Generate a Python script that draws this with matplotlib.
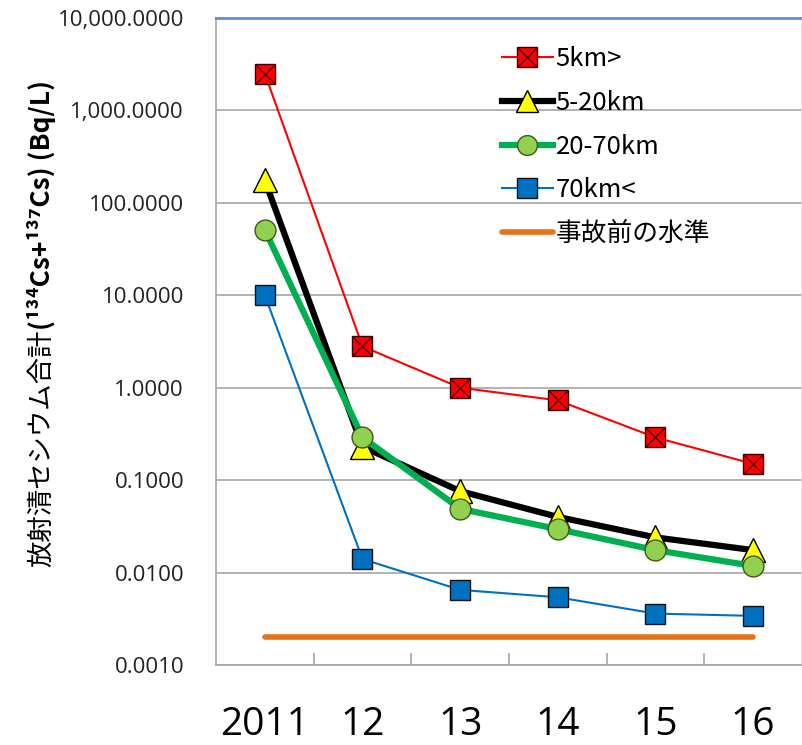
import numpy as np
import matplotlib.pyplot as plt
from matplotlib.legend_handler import HandlerTuple
from matplotlib.ticker import FixedLocator, NullLocator

years = ['2011', '12', '13', '14', '15', '16']
km5_in = [2500, 2.8, 1.0, 0.73, 0.29, 0.15]
km5_20 = [175, 0.23, 0.076, 0.040, 0.024, 0.0175]
km20_70 = [51, 0.29, 0.049, 0.0295, 0.0175, 0.0118]
km70_out = [10, 0.014, 0.0065, 0.0054, 0.0036, 0.0034]
pre_level = 0.002
yticks = [0.001, 0.01, 0.1, 1, 10, 100, 1000, 10000]

jp = ['Noto Sans CJK JP', 'DejaVu Sans']
plt.rcParams['font.family'] = ['Open Sans', 'DejaVu Sans']

fig = plt.figure(figsize=(8.03, 7.45), dpi=100)
ax = fig.add_axes([216 / 803, 80 / 745, 586 / 803, 647 / 745])

x = np.arange(len(years))

l_red, = ax.plot(x, km5_in, '-', color='#ff0000', lw=1.5, marker='s', ms=15,
                 mfc='#ff0000', mec='#3a0000', mew=1.0, zorder=5)
x_red, = ax.plot(x, km5_in, 'x', color='#5a0000', ms=14, mew=1.0, zorder=6)
l_blk, = ax.plot(x, km5_20, '-', color='black', lw=4.5, marker='^', ms=17,
                 mfc='#ffff00', mec='black', mew=1.0, zorder=4)
l_grn, = ax.plot(x, km20_70, '-', color='#00b050', lw=4.5, marker='o', ms=15,
                 mfc='#92d050', mec='#3a5a1a', mew=1.0, zorder=4)
l_blu, = ax.plot(x, km70_out, '-', color='#0070c0', lw=1.5, marker='s', ms=15,
                 mfc='#0070c0', mec='#111111', mew=1.0, zorder=4)
l_org, = ax.plot(x, [pre_level] * len(x), '-', color='#e8711c', lw=4,
                 solid_capstyle='round', zorder=3)

ax.set_yscale('log')
ax.set_ylim(0.001, 10000)
ax.set_xlim(-0.5, len(x) - 0.5)
ax.yaxis.set_major_locator(FixedLocator(yticks))
ax.yaxis.set_minor_locator(NullLocator())
ax.set_yticks(yticks)
ax.set_yticklabels(['{:,.4f}'.format(v) for v in yticks], fontsize=16, color='#222222')
ax.grid(axis='y', color='#a6a6a6', lw=1.2)
ax.tick_params(axis='y', length=0, pad=23)

ax.set_xticks(x[:-1] + 0.5)
ax.set_xticklabels([])
ax.tick_params(axis='x', length=9, width=1.2, color='#a6a6a6', direction='in')
for i, lab in enumerate(years):
    ax.text(x[i], -0.092, lab, transform=ax.get_xaxis_transform(),
            ha='center', va='center', fontsize=28)

for s in ['left', 'bottom', 'right']:
    ax.spines[s].set_color('#a6a6a6')
    ax.spines[s].set_linewidth(1.2)
ax.spines['right'].set_color('#dddddd')
ax.spines['top'].set_color('#5b8fd6')
ax.spines['top'].set_linewidth(2)

t1 = fig.text(42 / 803, 1 - 567 / 745, '放射清セシウム合計', rotation=90, ha='center',
              va='bottom', fontsize=19, family=jp)
ax.annotate('(¹³⁴Cs+¹³⁷Cs) (Bq/L)', xy=(0.5, 1.0), xycoords=t1, rotation=90,
            ha='center', va='bottom', fontsize=19, fontweight='bold', family=jp,
            annotation_clip=False)

leg = ax.legend([(l_red, x_red), l_blk, l_grn, l_blu, l_org],
                ['5km>', '5-20km', '20-70km', '70km<', '事故前の水準'],
                handler_map={tuple: HandlerTuple(ndivide=1, pad=0)},
                loc='upper left', bbox_to_anchor=(0.448, 0.992), frameon=False,
                prop={'family': jp, 'size': 18.5}, handlelength=2.0,
                handletextpad=0.1, labelspacing=0.69, markerscale=0.95)

fig.savefig('out.png', dpi=100)
